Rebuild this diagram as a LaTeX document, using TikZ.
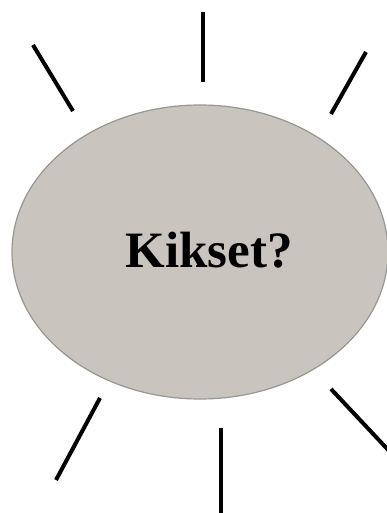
\documentclass[tikz,border=0pt]{standalone}
\usepackage{fontspec}
\setmainfont{Liberation Serif}
\usetikzlibrary{shapes.geometric}
\definecolor{bubblegray}{RGB}{201,197,190}
\definecolor{bubbleedge}{RGB}{150,150,146}
\begin{document}
\begin{tikzpicture}[x=1pt,y=-1pt,
  ray/.style={line width=4pt},
  bubble/.style={ellipse, fill=bubblegray, draw=bubbleedge, line width=1.2pt,
    minimum width=376pt, minimum height=294pt, inner sep=0pt}]
\useasboundingbox (0,0) rectangle (387,513);
\clip (0,0) rectangle (387,513);
% Bubble
\node[bubble] (bubble) at (200,252) {};
\node[font=\fontsize{51}{51}\selectfont\bfseries] (question) at (209,250) {Kikset?};
% Rays
\foreach \name/\xa/\ya/\xb/\yb in {tl/33/45/73/111, tc/203/12/203/82, tr/366/52/331/114,
    bl/100/398/56/480, bc/221/428/221/515, br/331/389/392/454} {
  \coordinate (\name a) at (\xa,\ya);
  \coordinate (\name b) at (\xb,\yb);
  \draw[ray] (\name a) -- (\name b);
}
\end{tikzpicture}
\end{document}
